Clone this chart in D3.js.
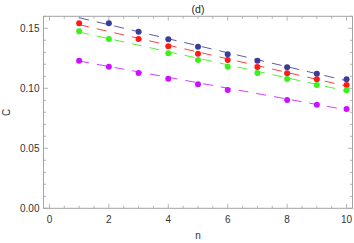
<!DOCTYPE html>
<html>
<head>
<meta charset="utf-8">
<script src="https://cdn.jsdelivr.net/npm/d3@7"></script>
<style>
  body { margin: 0; background: #fff; }
  text { font-family: "Liberation Sans", Arial, sans-serif; }
</style>
</head>
<body>
<div id="chart"></div>
<script>
// n values (1..10); null = no marker drawn at that n
var nValues = [1, 2, 3, 4, 5, 6, 7, 8, 9, 10];

var blueC    = [null, 0.1542, 0.1472, 0.1408, 0.1347, 0.1283, 0.1230, 0.1175, 0.1122, 0.1075];
var redC     = [0.1542, null, 0.1411, 0.1350, 0.1288, 0.1236, 0.1178, 0.1125, 0.1075, 0.1028];
var greenC   = [0.1475, 0.1411, null, 0.1292, 0.1236, 0.1180, 0.1128, 0.1078, 0.1028, 0.0983];
var magentaC = [0.1230, 0.1180, 0.1128, 0.1080, 0.1033, 0.0986, null, 0.0903, 0.0863, 0.0828];

// dashed fit lines: value at n = 1 and at n = 10
var fitN = [1, 10];
var blueFit    = [0.1588, 0.1063];
var redFit     = [0.1530, 0.1018];
var greenFit   = [0.1468, 0.0978];
var magentaFit = [0.1227, 0.0820];

var xTicks = [0, 2, 4, 6, 8, 10];
var yTicks = [0, 0.05, 0.10, 0.15];

var series = [
  { pts: blueC,    fit: blueFit,    dot: "#3b3b9c", line: "#5a5aae" },
  { pts: redC,     fit: redFit,     dot: "#ff1a1a", line: "#ff4040" },
  { pts: greenC,   fit: greenFit,   dot: "#3cf01e", line: "#55f035" },
  { pts: magentaC, fit: magentaFit, dot: "#cc11ff", line: "#d040ff" }
];

var W = 354, H = 243;
var svg = d3.select("#chart").append("svg")
    .attr("width", W)
    .attr("height", H);

var x = d3.scaleLinear().domain([-0.2, 10.2]).range([43.5, 352.5]);
var y = d3.scaleLinear().domain([0, 0.16]).range([208.3, 16.3]);

var frameCol = "#a3a3a3";

// frame
svg.append("rect")
    .attr("x", x.range()[0]).attr("y", y.range()[1])
    .attr("width", x.range()[1] - x.range()[0])
    .attr("height", y.range()[0] - y.range()[1])
    .attr("fill", "none")
    .attr("stroke", frameCol)
    .attr("stroke-width", 1);

// ticks, inward on all four sides
var xMinor = d3.range(0, 10.01, 0.5);
var yMinor = d3.range(0, 0.1601, 0.01);
var ticks = svg.append("g").attr("stroke", frameCol).attr("stroke-width", 0.8);

xMinor.forEach(function (v) {
  var major = Math.abs(v / 2 - Math.round(v / 2)) < 1e-6;
  var len = major ? 4.5 : 2.5;
  ticks.append("line").attr("x1", x(v)).attr("x2", x(v))
    .attr("y1", y.range()[0]).attr("y2", y.range()[0] - len);
  ticks.append("line").attr("x1", x(v)).attr("x2", x(v))
    .attr("y1", y.range()[1]).attr("y2", y.range()[1] + len);
});
yMinor.forEach(function (v) {
  var major = Math.abs(v / 0.05 - Math.round(v / 0.05)) < 1e-6;
  var len = major ? 4.5 : 2.5;
  ticks.append("line").attr("y1", y(v)).attr("y2", y(v))
    .attr("x1", x.range()[0]).attr("x2", x.range()[0] + len);
  ticks.append("line").attr("y1", y(v)).attr("y2", y(v))
    .attr("x1", x.range()[1]).attr("x2", x.range()[1] - len);
});

// tick labels
svg.append("g").selectAll("text")
    .data(xTicks).enter().append("text")
    .attr("x", function (d) { return x(d); })
    .attr("y", y.range()[0] + 14.5)
    .attr("text-anchor", "middle")
    .attr("fill", "#333")
    .style("font-size", "10px")
    .text(function (d) { return d; });

svg.append("g").selectAll("text")
    .data(yTicks).enter().append("text")
    .attr("x", x.range()[0] - 4)
    .attr("y", function (d) { return y(d) + 3.5; })
    .attr("text-anchor", "end")
    .attr("fill", "#333")
    .style("font-size", "10px")
    .text(function (d) { return d3.format(".2f")(d); });

// axis labels and title
svg.append("text")
    .attr("x", (x.range()[0] + x.range()[1]) / 2)
    .attr("y", 239)
    .attr("text-anchor", "middle")
    .attr("fill", "#333")
    .style("font-size", "10px")
    .text("n");

svg.append("text")
    .attr("transform", "translate(10," + ((y.range()[0] + y.range()[1]) / 2) + ") rotate(-90)")
    .attr("text-anchor", "middle")
    .attr("fill", "#333")
    .style("font-size", "10px")
    .text("C");

svg.append("text")
    .attr("x", (x.range()[0] + x.range()[1]) / 2)
    .attr("y", 12.5)
    .attr("text-anchor", "middle")
    .attr("fill", "#222")
    .style("font-size", "10.5px")
    .text("(d)");

// clip to plotting area
svg.append("clipPath").attr("id", "clip")
  .append("rect")
    .attr("x", x.range()[0]).attr("y", y.range()[1])
    .attr("width", x.range()[1] - x.range()[0])
    .attr("height", y.range()[0] - y.range()[1]);

var plot = svg.append("g").attr("clip-path", "url(#clip)");

var line = d3.line()
    .x(function (d) { return x(d[0]); })
    .y(function (d) { return y(d[1]); });

series.forEach(function (s) {
  plot.append("path")
      .datum(fitN.map(function (n, i) { return [n, s.fit[i]]; }))
      .attr("d", line)
      .attr("fill", "none")
      .attr("stroke", s.line)
      .attr("stroke-width", 1)
      .attr("stroke-dasharray", "10,8");
});

series.forEach(function (s) {
  var pts = nValues.map(function (n, i) { return [n, s.pts[i]]; })
      .filter(function (d) { return d[1] !== null; });
  plot.append("g").selectAll("circle")
      .data(pts).enter().append("circle")
      .attr("cx", function (d) { return x(d[0]); })
      .attr("cy", function (d) { return y(d[1]); })
      .attr("r", 3)
      .attr("fill", s.dot);
});
</script>
</body>
</html>
